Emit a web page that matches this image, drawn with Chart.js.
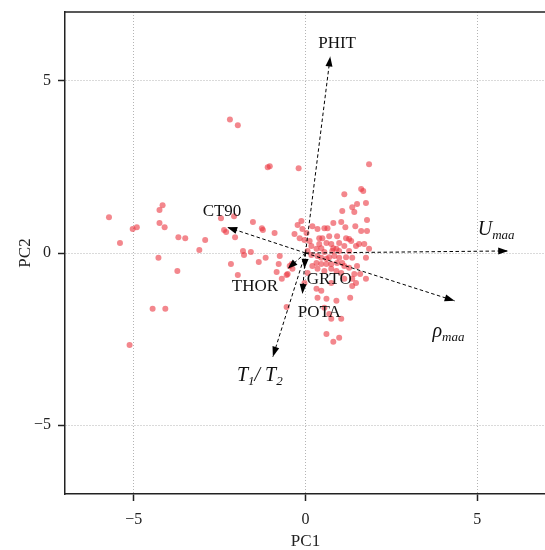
<!DOCTYPE html>
<html>
<head>
<meta charset="utf-8">
<script src="https://cdn.jsdelivr.net/npm/chart.js@4.4.0/dist/chart.umd.min.js"></script>
<style>
html, body { margin: 0; padding: 0; overflow: hidden; background: #fff; }
</style>
</head>
<body>
<canvas id="pca" width="550" height="550"></canvas>
<script>
// sample scores
var pc1 = [-5.72,-5.40,-5.03,-4.91,-4.25,-4.16,-4.25,-4.10,-3.70,-3.50,-3.09,-4.28,-3.73,-4.45,-4.08,-5.12,-2.92,-2.46,-2.08,-2.37,
  -2.31,-2.05,-1.53,-1.27,-1.24,-0.90,-1.82,-1.59,-1.79,-1.16,-1.36,-0.75,-0.78,-2.17,-0.46,-0.84,-1.97,-0.55,-0.69,-0.55,
  -2.20,-1.97,-1.10,-1.04,-0.20,1.85,
  1.62,1.68,1.13,1.50,1.76,1.36,1.42,1.07,1.79,1.45,1.62,1.79,0.81,1.04,1.16,0.55,0.64,-0.12,-0.23,0.20,
  -0.09,0.03,-0.32,-0.17,-0.03,0.35,0.40,0.49,0.69,0.92,1.18,1.27,0.40,0.61,0.75,0.81,0.90,0.78,0.98,1.47,
  1.56,1.71,0.32,0.46,0.55,0.17,0.35,0.46,0.61,0.69,0.84,0.98,1.18,1.36,1.76,0.32,0.46,0.61,0.75,0.92,
  1.07,1.50,1.27,0.35,0.55,0.75,0.90,1.04,1.42,1.59,-0.40,-0.38,-0.52,0.06,1.13,1.36,1.76,0.75,-0.03,0.46,
  0.32,1.36,0.35,0.61,0.90,0.55,0.69,1.04,0.75,0.61,0.98,0.81,1.47,1.30,
  0.17,0.06,1.13,1.27,0.20,1.13,0.12,0.98,1.33,1.85];
var pc2 = [1.04,0.29,0.70,0.75,1.25,1.39,0.87,0.75,0.46,0.43,0.09,-0.14,-0.52,-1.62,-1.62,-2.67,0.38,1.01,1.07,0.67,
  0.61,0.46,0.90,0.72,0.67,0.58,0.06,0.03,-0.06,-0.14,-0.26,-0.09,-0.32,-0.32,-0.38,-0.55,-0.64,-0.64,-0.75,-1.57,
  3.88,3.71,2.49,2.52,2.46,2.58,
  1.86,1.80,1.71,1.42,1.45,1.33,1.19,1.22,0.96,0.78,0.64,0.64,0.87,0.90,0.75,0.72,0.72,0.93,0.81,0.78,
  0.70,0.58,0.55,0.43,0.38,0.70,0.43,0.43,0.49,0.49,0.43,0.41,0.26,0.29,0.26,0.14,0.12,0.06,0.06,0.20,
  0.26,0.26,0.12,0.14,0.03,-0.06,-0.09,-0.14,-0.17,-0.12,-0.09,-0.14,-0.12,-0.14,-0.14,-0.29,-0.32,-0.32,-0.32,-0.29,
  -0.29,-0.38,-0.43,-0.46,-0.52,-0.46,-0.52,-0.58,-0.61,-0.61,-0.32,-0.46,-0.61,-0.58,-0.75,-0.75,-0.75,-0.87,-0.87,-1.10,
  -1.04,-0.96,-1.30,-1.33,-1.39,-1.59,-1.77,-1.91,-1.91,-2.35,-2.46,-2.58,-0.87,-1.30,
  0.20,0.06,0.20,0.06,-0.38,-0.38,0.35,0.29,0.35,0.12];

// variable loadings (arrow tips) and where their names sit
var loadNames = ["PHIT", "CT90", "Umaa", "rhomaa", "T1T2", "THOR", "GRTO", "POTA"];
var loadX = [0.72, -2.28, 5.90, 4.34, -0.95, -0.52, -0.03, -0.09];
var loadY = [5.71, 0.75, 0.06, -1.39, -3.01, -0.46, -0.46, -1.19];
var labelX = [0.92, -2.43, 5.55, 4.16, -1.33, -1.47, 0.69, 0.40];
var labelY = [6.14, 1.25, 0.70, -2.26, -3.54, -0.93, -0.72, -1.68];
// label text pieces: n = plain, i = italic, s = italic subscript
var labelParts = [
  [["PHIT", "n"]],
  [["CT90", "n"]],
  [["U", "i"], ["maa", "s"]],
  [["\u03C1", "i"], ["maa", "s"]],
  [["T", "i"], ["1", "s"], ["/ ", "i"], ["T", "i"], ["2", "s"]],
  [["THOR", "n"]],
  [["GRTO", "n"]],
  [["POTA", "n"]]
];
var tickVals = [-5, 0, 5];

var serif = "'Liberation Serif', 'DejaVu Serif', serif";

var datasets = [];
for (var i = 0; i < loadNames.length; i++) {
  datasets.push({
    label: loadNames[i],
    data: [{ x: 0, y: 0 }, { x: loadX[i], y: loadY[i] }],
    showLine: true,
    borderColor: '#000',
    borderWidth: 1,
    borderDash: [3.5, 2.5],
    pointRadius: 0,
    fill: false
  });
}
datasets.push({
  label: 'scores',
  data: pc1.map(function (v, k) { return { x: v, y: pc2[k] }; }),
  backgroundColor: 'rgba(235,55,65,0.6)',
  borderWidth: 0,
  pointRadius: 3
});

function fontFor(kind) {
  if (kind == "n") return "17px " + serif;
  if (kind == "i") return "italic 20px " + serif;
  return "italic 13px " + serif;
}

var biplot = {
  id: 'biplot',
  afterDatasetsDraw: function (chart) {
    var ctx = chart.ctx;
    var xs = chart.scales.x, ys = chart.scales.y;
    var a = chart.chartArea;
    ctx.save();
    // arrow heads
    var x0 = xs.getPixelForValue(0), y0 = ys.getPixelForValue(0);
    ctx.fillStyle = '#000';
    for (var i = 0; i < loadNames.length; i++) {
      var x1 = xs.getPixelForValue(loadX[i]), y1 = ys.getPixelForValue(loadY[i]);
      var ang = Math.atan2(y1 - y0, x1 - x0);
      ctx.save();
      ctx.translate(x1, y1);
      ctx.rotate(ang);
      ctx.beginPath();
      ctx.moveTo(0, 0);
      ctx.lineTo(-10, -3.5);
      ctx.lineTo(-10, 3.5);
      ctx.closePath();
      ctx.fill();
      ctx.restore();
    }
    // names
    ctx.fillStyle = '#111';
    ctx.textBaseline = 'alphabetic';
    ctx.textAlign = 'left';
    for (var j = 0; j < labelParts.length; j++) {
      var parts = labelParts[j];
      var w = 0;
      parts.forEach(function (p) { ctx.font = fontFor(p[1]); w += ctx.measureText(p[0]).width; });
      var cx = xs.getPixelForValue(labelX[j]);
      var cy = ys.getPixelForValue(labelY[j]);
      var x = cx - w / 2;
      parts.forEach(function (p) {
        ctx.font = fontFor(p[1]);
        var dy = p[1] == "s" ? 10 : 6;
        ctx.fillText(p[0], x, cy + dy);
        x += ctx.measureText(p[0]).width;
      });
    }
    // top / right frame
    ctx.strokeStyle = '#222';
    ctx.lineWidth = 1.5;
    ctx.beginPath();
    ctx.moveTo(a.left, a.top);
    ctx.lineTo(a.right, a.top);
    ctx.lineTo(a.right, a.bottom);
    ctx.stroke();
    ctx.restore();
  }
};

function axis(title, titlePad, tickPad, fit) {
  return {
    type: 'linear',
    min: -7,
    max: 7,
    afterBuildTicks: function (scale) {
      scale.ticks = tickVals.map(function (v) { return { value: v }; });
    },
    afterFit: fit,
    grid: {
      color: '#b4b4b4',
      lineWidth: 1,
      tickColor: '#222',
      tickWidth: 1.5,
      tickLength: 7
    },
    border: { display: true, color: '#222', width: 1.5, dash: [1, 2] },
    ticks: {
      color: '#222',
      padding: tickPad,
      font: { family: serif, size: 16 },
      callback: function (v) { return v < 0 ? '\u2212' + Math.abs(v) : String(v); }
    },
    title: {
      display: true,
      text: title,
      color: '#222',
      font: { family: serif, size: 17 },
      padding: titlePad
    }
  };
}

new Chart(document.getElementById('pca'), {
  type: 'scatter',
  data: { datasets: datasets },
  options: {
    responsive: false,
    animation: false,
    layout: { padding: { top: 12, right: 0, left: 0, bottom: 0 } },
    plugins: { legend: { display: false }, tooltip: { enabled: false } },
    scales: {
      x: axis('PC1', { top: 0, bottom: -2 }, 9, function (s) {
        s.height = 56; s.paddingLeft = 0; s.paddingRight = 0;
      }),
      y: axis('PC2', { top: 15, bottom: 0 }, 7, function (s) {
        s.width = 65; s.paddingTop = 0; s.paddingBottom = 0;
      })
    }
  },
  plugins: [biplot]
});
</script>
</body>
</html>
